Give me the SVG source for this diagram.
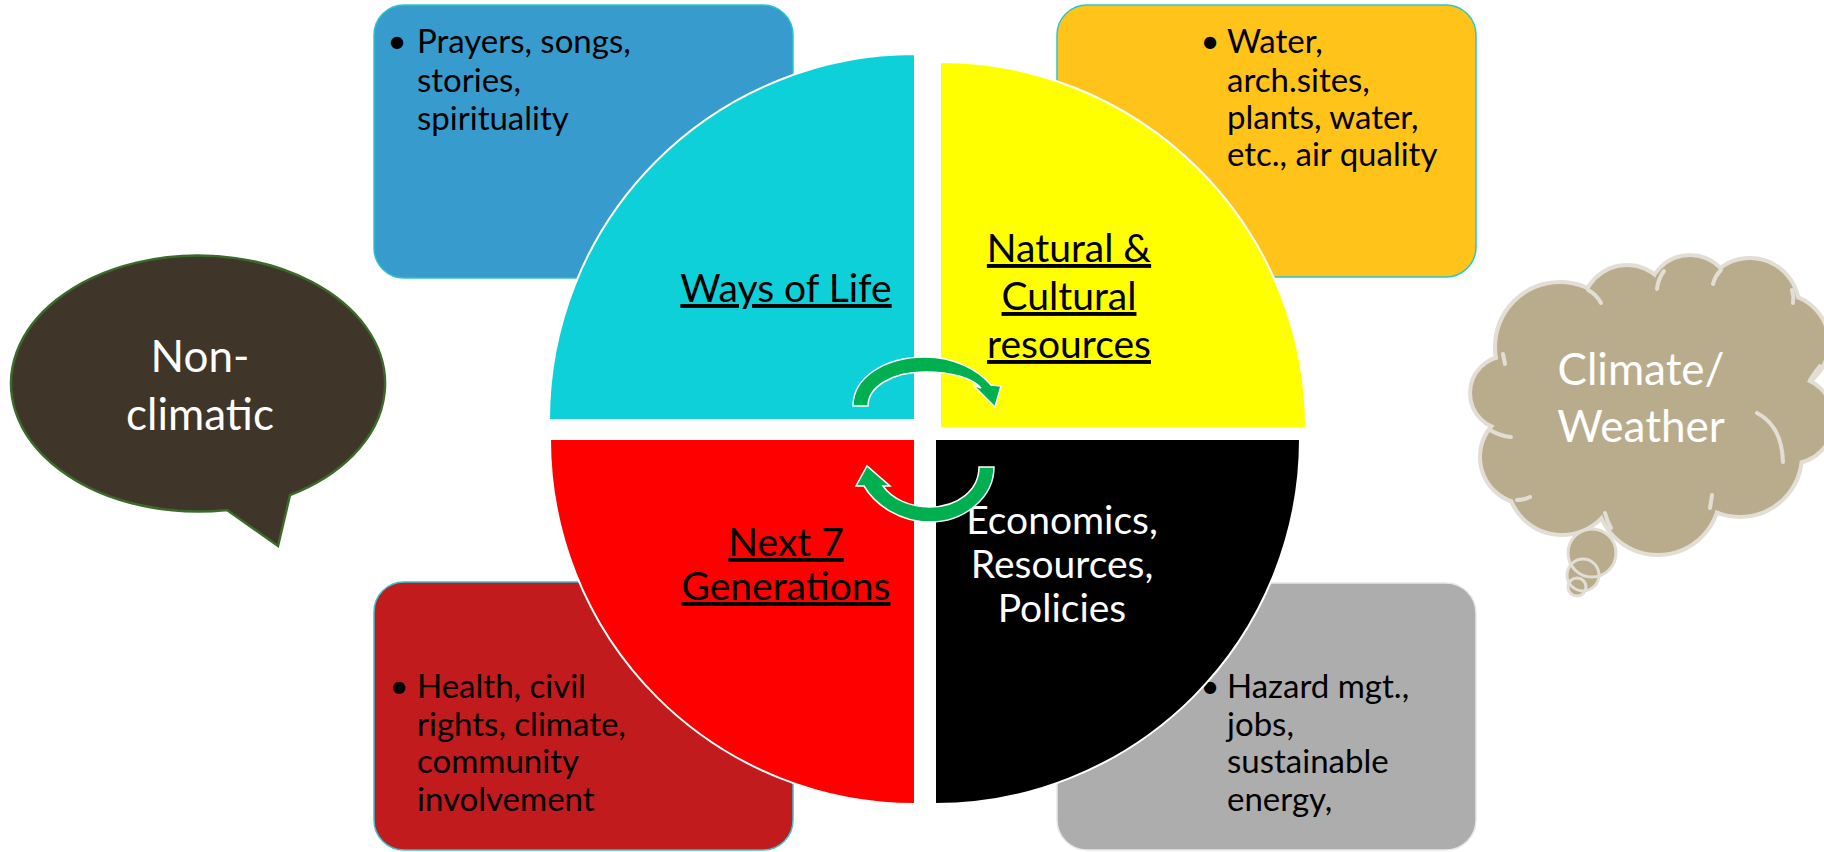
<svg xmlns="http://www.w3.org/2000/svg" width="1824" height="852" viewBox="0 0 1824 852">
<style>
.box{stroke-width:1.5}
.btxt{font-family:Lato,"Liberation Sans",sans-serif;font-size:33px;fill:#000}
.lbl{font-family:Lato,"Liberation Sans",sans-serif;font-size:39px;fill:#000;text-anchor:middle;text-decoration:underline}
.wlbl{font-family:Lato,"Liberation Sans",sans-serif;font-size:39px;fill:#fff;text-anchor:middle}
.bub{font-family:Lato,"Liberation Sans",sans-serif;font-size:44px;fill:#fff;text-anchor:middle}
.quad{stroke:#fff;stroke-width:2}
.arrow{fill:#00B050;stroke:#fff;stroke-width:1.5;stroke-linejoin:miter}
.lobe{fill:#B9AC8C}
.cloudline{fill:none;stroke:#E3DED5;stroke-width:4;stroke-linecap:round}
</style>
<rect width="1824" height="852" fill="#fff"/>

<g id="box-spirituality">
<rect class="box" x="374" y="5" width="419" height="273" rx="30" fill="#389BCE" stroke="#2CC3CF"/>
<text class="btxt" x="397" y="53" text-anchor="middle">•</text>
<text class="btxt"><tspan x="417" y="53">Prayers, songs,</tspan><tspan x="417" y="92">stories,</tspan><tspan x="417" y="130">spirituality</tspan></text>
</g>
<g id="box-resources">
<rect class="box" x="1057" y="5" width="419" height="272" rx="30" fill="#FFC31A" stroke="#2CC6CF"/>
<text class="btxt" x="1210" y="53" text-anchor="middle">•</text>
<text class="btxt"><tspan x="1227" y="53">Water,</tspan><tspan x="1227" y="92">arch.sites,</tspan><tspan x="1227" y="129">plants, water,</tspan><tspan x="1227" y="166">etc., air quality</tspan></text>
</g>
<g id="box-health">
<rect class="box" x="374" y="582" width="419" height="268" rx="30" fill="#C21B1D" stroke="#36C2CC"/>
<text class="btxt" x="399" y="698" text-anchor="middle">•</text>
<text class="btxt"><tspan x="417" y="698">Health, civil</tspan><tspan x="417" y="736">rights, climate,</tspan><tspan x="417" y="773">community</tspan><tspan x="417" y="811">involvement</tspan></text>
</g>
<g id="box-hazard">
<rect class="box" x="1057" y="583" width="419" height="267" rx="30" fill="#ADADAD" stroke="#E8E8E8"/>
<text class="btxt" x="1210" y="698" text-anchor="middle">•</text>
<text class="btxt"><tspan x="1227" y="698">Hazard mgt.,</tspan><tspan x="1227" y="736">jobs,</tspan><tspan x="1227" y="773">sustainable</tspan><tspan x="1227" y="811">energy,</tspan></text>
</g>

<g id="quad-ways">
<path class="quad" d="M915,420 L549,420 A366,366 0 0 1 915,54 Z" fill="#0ED0D8"/>
<text class="lbl" x="786" y="302">Ways of Life</text>
</g>
<g id="quad-natural">
<path class="quad" d="M940,428 L940,62 A366,366 0 0 1 1306,428 Z" fill="#FFFF00"/>
<text class="lbl"><tspan x="1069" y="262">Natural &amp;</tspan><tspan x="1069" y="310">Cultural</tspan><tspan x="1069" y="358">resources</tspan></text>
</g>
<g id="quad-next">
<path class="quad" d="M915,439 L915,804 A365,365 0 0 1 550,439 Z" fill="#FF0000"/>
<text class="lbl"><tspan x="786" y="556">Next 7</tspan><tspan x="786" y="600">Generations</tspan></text>
</g>
<g id="quad-economics">
<path class="quad" d="M935,439 L1300,439 A365,365 0 0 1 935,804 Z" fill="#000"/>
<text class="wlbl"><tspan x="1062" y="534">Economics,</tspan><tspan x="1062" y="578">Resources,</tspan><tspan x="1062" y="622">Policies</tspan></text>
</g>

<g id="connectors">
<path class="arrow" d="M853,406 C853,378 884,357 925,357 C955,357 978,370 991,385 L1001,386 L995,407 L973,385 L981,388 C972,378 952,372 925,372 C890,372 868,388 868,406 Z"/>
<path class="arrow" d="M994,467 C994,497 965,522 930,522 C900,522 875,505 864,486 L856,486 L867,466 L890,486 L883,486 C892,499 910,507 930,507 C958,507 979,490 979,467 Z"/>
</g>

<g id="non-climatic">
<path d="M290,495 A187,128 0 1 0 227,510 L278,546 Z" fill="#3F3629" stroke="#3B6A2A" stroke-width="2.5" stroke-linejoin="miter"/>
<text class="bub"><tspan x="200" y="372">Non-</tspan><tspan x="200" y="430">climatic</tspan></text>
</g>

<g id="climate-weather">
<g stroke="#E3DED5" stroke-width="8" fill="#E3DED5">
<circle cx="1507" cy="393" r="35"/>
<circle cx="1527" cy="457" r="45"/>
<circle cx="1562" cy="480" r="53"/>
<circle cx="1658" cy="493" r="60"/>
<circle cx="1740" cy="455" r="60"/>
<circle cx="1790" cy="420" r="42"/>
<circle cx="1780" cy="343" r="47"/>
<circle cx="1750" cy="307" r="47"/>
<circle cx="1690" cy="297" r="40"/>
<circle cx="1627" cy="310" r="43"/>
<circle cx="1560" cy="347" r="63"/>
</g>
<g class="lobe">
<circle cx="1507" cy="393" r="35"/>
<circle cx="1527" cy="457" r="45"/>
<circle cx="1562" cy="480" r="53"/>
<circle cx="1658" cy="493" r="60"/>
<circle cx="1740" cy="455" r="60"/>
<circle cx="1790" cy="420" r="42"/>
<circle cx="1780" cy="343" r="47"/>
<circle cx="1750" cy="307" r="47"/>
<circle cx="1690" cy="297" r="40"/>
<circle cx="1627" cy="310" r="43"/>
<circle cx="1560" cy="347" r="63"/>
<ellipse cx="1655" cy="405" rx="135" ry="110"/>
</g>
<g class="cloudline">
<path d="M1588,290 Q1596,294 1601,303"/>
<path d="M1664,271 Q1658,279 1657,289"/>
<path d="M1721,270 Q1715,276 1713,284"/>
<path d="M1792,290 Q1794,296 1793,303"/>
<path d="M1820,366 Q1815,372 1810,380"/>
<path d="M1757,413 Q1782,426 1783,462"/>
<path d="M1712,495 Q1711,502 1710,508"/>
<path d="M1605,513 Q1607,521 1611,528"/>
<path d="M1530,497 Q1524,500 1517,500"/>
<path d="M1490,430 Q1500,436 1511,437"/>
<path d="M1503,354 Q1504,359 1505,364"/>
</g>
<g fill="#B9AC8C">
<circle cx="1592" cy="553" r="24"/>
<circle cx="1583" cy="575" r="16"/>
<circle cx="1577" cy="587" r="9"/>
</g>
<g fill="none" stroke="#E3DED5" stroke-width="3">
<circle cx="1592" cy="553" r="24"/>
<circle cx="1583" cy="575" r="16"/>
<circle cx="1577" cy="587" r="9"/>
</g>
<text class="bub"><tspan x="1641" y="385">Climate/</tspan><tspan x="1641" y="442">Weather</tspan></text>
</g>
</svg>
